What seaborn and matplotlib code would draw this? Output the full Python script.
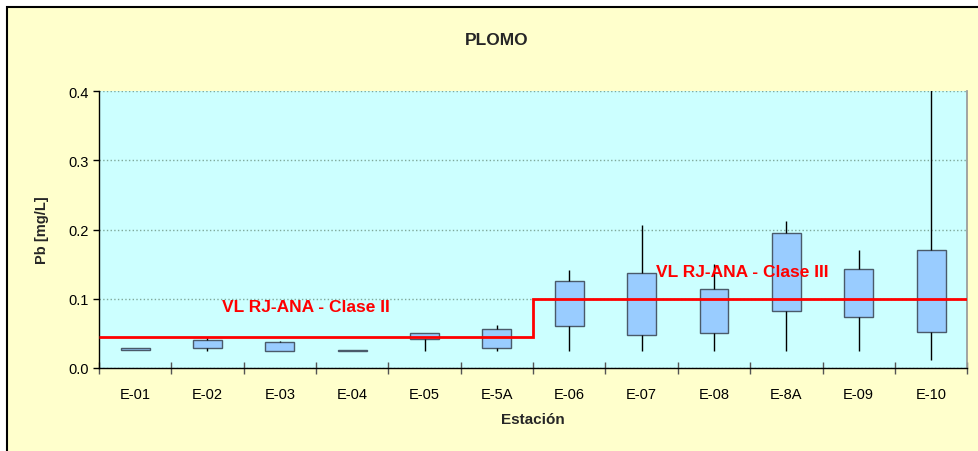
import numpy as np
import pandas as pd
import matplotlib
matplotlib.use('Agg')
import matplotlib.pyplot as plt
from matplotlib.patches import Rectangle
import seaborn as sns

# Values (mg/L)
stations = ['E-01', 'E-02', 'E-03', 'E-04', 'E-05', 'E-5A',
            'E-06', 'E-07', 'E-08', 'E-8A', 'E-09', 'E-10']
low = [0.026, 0.025, 0.025, 0.0245, 0.025, 0.025, 0.025, 0.025, 0.025, 0.025, 0.025, 0.011]
q1 = [0.026, 0.028, 0.025, 0.0245, 0.042, 0.028, 0.061, 0.047, 0.050, 0.082, 0.073, 0.052]
mid = [0.027, 0.034, 0.031, 0.025, 0.046, 0.042, 0.093, 0.092, 0.082, 0.138, 0.108, 0.111]
q3 = [0.028, 0.0405, 0.037, 0.0255, 0.0506, 0.056, 0.126, 0.137, 0.114, 0.195, 0.143, 0.170]
high = [0.028, 0.044, 0.039, 0.0255, 0.0506, 0.0626, 0.142, 0.206, 0.150, 0.212, 0.171, 0.45]
limit = [0.045, 0.045, 0.045, 0.045, 0.045, 0.045, 0.1, 0.1, 0.1, 0.1, 0.1, 0.1]
yticks = [0.0, 0.1, 0.2, 0.3, 0.4]

rows = []
for i, st in enumerate(stations):
    for v in (low[i], q1[i], mid[i], q3[i], high[i]):
        rows.append({'Estacion': st, 'Pb': v})
df = pd.DataFrame(rows)

sns.set_theme(style='white')
plt.rcParams['font.family'] = ['Liberation Sans', 'DejaVu Sans']

fig = plt.figure(figsize=(9.79, 4.52), dpi=100, facecolor='white')
frame = Rectangle((0.007, -0.05), 1.05, 0.982 + 0.05, transform=fig.transFigure,
                  facecolor='#FFFFCC', edgecolor='black', linewidth=1.5, zorder=-10)
fig.add_artist(frame)

ax = fig.add_axes([0.101, 0.184, 0.887, 0.612])
ax.set_facecolor('#CCFFFF')

sns.boxplot(data=df, x='Estacion', y='Pb', order=stations, ax=ax, whis=(0, 100),
            width=0.4, color='#99CCFF', showcaps=False, showfliers=False,
            boxprops={'facecolor': '#99CCFF', 'edgecolor': '#4a5a6a', 'linewidth': 1},
            whiskerprops={'color': 'black', 'linewidth': 1},
            medianprops={'visible': False}, saturation=1)

edges = np.arange(len(stations) + 1) - 0.5
ax.stairs(limit, edges, color='red', linewidth=2, baseline=None, zorder=5)

ax.text(2.36, 0.088, 'VL RJ-ANA - Clase II', color='red', fontsize=12.5,
        fontweight='bold', ha='center', va='center', zorder=6)
ax.text(8.39, 0.14, 'VL RJ-ANA - Clase III', color='red', fontsize=12.5,
        fontweight='bold', ha='center', va='center', zorder=6)

ax.set_xlim(-0.5, len(stations) - 0.5)
ax.set_ylim(0, 0.4)
ax.set_yticks(yticks)
ax.set_yticklabels([f'{t:.1f}' for t in yticks])
ax.yaxis.grid(True, linestyle=':', color='#7fa89a', linewidth=1)
ax.set_axisbelow(True)

ax.set_xticks(np.arange(len(stations)))
ax.set_xticks(edges, minor=True)
ax.tick_params(axis='x', which='major', length=0, pad=14, labelsize=10.5, colors='black')
ax.tick_params(axis='x', which='minor', length=8, width=1, color='#555555',
               bottom=True, direction='inout')
ax.tick_params(axis='y', length=4, width=1, left=True, labelsize=10.5, colors='black')

for side in ['left', 'bottom']:
    ax.spines[side].set_color('black')
    ax.spines[side].set_linewidth(1)
ax.spines['top'].set_visible(False)
ax.spines['right'].set_color('#999999')

ax.set_xlabel('Estación', fontsize=11, fontweight='bold', labelpad=8)
ax.set_ylabel('Pb [mg/L]', fontsize=10.5, fontweight='bold', labelpad=14)
fig.text(0.507, 0.911, 'PLOMO', ha='center', va='center', fontsize=12.5, fontweight='bold')

fig.savefig('out.png', dpi=100)
